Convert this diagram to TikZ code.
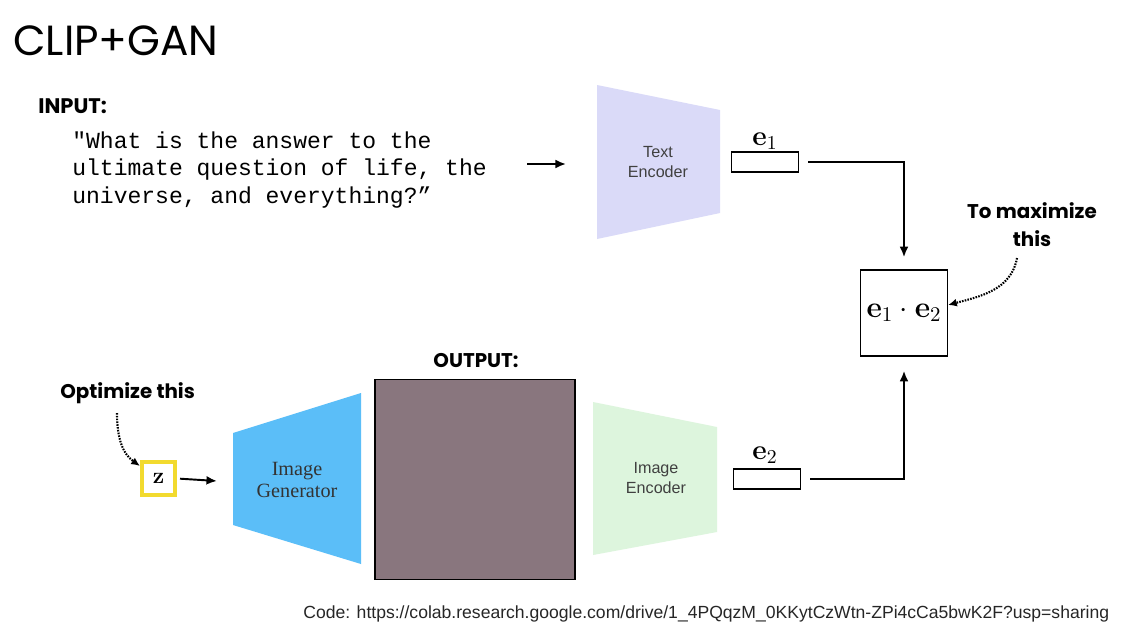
\RequirePackage{fix-cm}
\documentclass[tikz,border=0pt]{standalone}
\usepackage[no-math]{fontspec}
\setmainfont{Liberation Sans}
\newfontfamily\popfont{Poppins}
\newfontfamily\codefont{Liberation Mono}
\newfontfamily\seriffont{Liberation Serif}
\usetikzlibrary{arrows.meta}

\definecolor{textenc}{RGB}{218,218,248}
\definecolor{imgenc}{RGB}{221,245,221}
\definecolor{imggen}{RGB}{91,190,248}
\definecolor{zyellow}{RGB}{242,218,46}
\definecolor{outimg}{RGB}{137,118,126}

\begin{document}
\begin{tikzpicture}[x=0.02cm, y=-0.02cm,
	arr/.style={-{Latex[length=6pt,width=5pt]}, line width=1.1pt},
	hint/.style={-{Latex[length=5pt,width=4.5pt]}, line width=1.2pt, dash pattern=on 0.9pt off 0.7pt},
	vec/.style={draw, line width=0.85pt, minimum width=1.34cm, minimum height=0.4cm, inner sep=0},
	elbl/.style={anchor=base, inner sep=0, font=\fontsize{16}{18}\selectfont},
	enclbl/.style={align=center, text=black!75, font=\fontsize{9.2}{11.3}\selectfont},
	head/.style={inner sep=0, font=\popfont\bfseries\fontsize{11.3}{15.9}\selectfont}]

	\fill[white] (0,0) rectangle (1125,633);
	\useasboundingbox (0,0) rectangle (1125,633);

	\node[anchor=base west, inner sep=0, font=\popfont\fontsize{24}{29}\selectfont] (title) at (13,55) {CLIP+GAN};

	\node[head, anchor=base west, font=\popfont\bfseries\fontsize{12}{14}\selectfont] (inlbl) at (38,113) {INPUT:};
	\node[anchor=north west, inner sep=0, align=left, font=\codefont\fontsize{13.1}{15.9}\selectfont] (prompt) at (72,131)
		{"What is the answer to the\\ultimate question of life, the\\universe, and everything?”};

	\coordinate (in-a) at (527,164);
	\coordinate (in-b) at (566,164);
	\draw[arr] (in-a) -- (in-b);

	\fill[textenc] (597,85) -- (720,110) -- (720,213) -- (597,239) -- cycle;
	\node[enclbl] (textenc) at (658,162) {Text\\Encoder};

	\node[vec] (e1) at (765,162) {};
	\node[elbl] (e1lbl) at (765,145) {$\mathbf{e}_1$};

	\node[draw, line width=0.85pt, minimum width=1.72cm, minimum height=1.72cm, font=\fontsize{17}{19}\selectfont] (dot) at (904,313) {$\mathbf{e}_1\cdot\mathbf{e}_2$};

	\node[head, align=center] (max) at (1032,225) {To maximize\\this};
	\coordinate (max-tail) at (1017,258);
	\draw[hint] (max-tail) to[out=-100,in=15] ([yshift=0.16cm]dot.east);

	\draw[arr, shorten <=0.18cm, shorten >=0.24cm] (e1.east) -| (dot.north);

	\node[head, anchor=base west] (opt) at (60,398) {Optimize this};
	\node[draw=zyellow, line width=2.3pt, minimum size=0.66cm, inner sep=0, font=\fontsize{13}{14}\selectfont] (z) at (158.5,478.5) {$\mathbf{z}$};
	\coordinate (opt-tail) at (117,413);
	\draw[hint] (opt-tail) to[out=-90,in=145] ([yshift=-0.12cm]z.north west);

	\fill[imggen] (233,433) -- (361,393) -- (361,564) -- (233,525) -- cycle;
	\node[align=center, text=black!80, font=\seriffont\fontsize{11.5}{12}\selectfont] (gen) at (297,480) {Image\\Generator};
	\coordinate (gen-in) at (217,481);
	\draw[arr, shorten <=0.06cm] (z.east) -- (gen-in);

	\node[head, anchor=base] (outlbl) at (476,367) {OUTPUT:};
	\node[draw, fill=outimg, line width=1pt, minimum size=4cm, inner sep=0] (out) at (475,479.5) {};

	\fill[imgenc] (593,402) -- (717,427) -- (717,532) -- (593,555) -- cycle;
	\node[enclbl] (imgenc) at (656,478) {Image\\Encoder};

	\node[vec] (e2) at (767,479) {};
	\node[elbl] (e2lbl) at (765,459) {$\mathbf{e}_2$};

	\draw[arr, shorten <=0.18cm, shorten >=0.28cm] (e2.east) -| (dot.south);

	\node[anchor=base west, inner sep=0, text=black!85, font=\fontsize{10}{12}\selectfont] (code) at (303,618)
		{Code: https://colab.research.google.com/drive/1\_4PQqzM\_0KKytCzWtn-ZPi4cCa5bwK2F?usp=sharing};

\end{tikzpicture}
\end{document}
